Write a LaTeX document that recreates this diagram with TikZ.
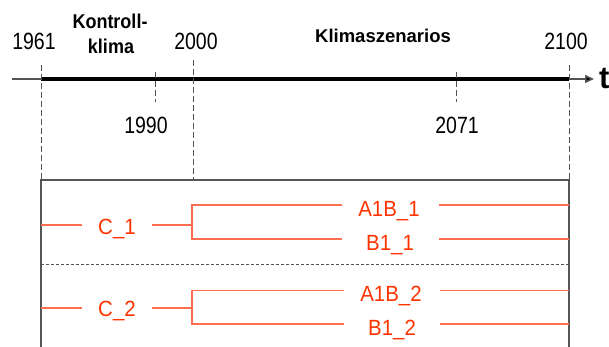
\documentclass[tikz,border=0pt]{standalone}
\usepackage{fontspec}
\setmainfont{Liberation Sans}
\newfontfamily\yrfont[FakeStretch=0.83]{Liberation Sans}
\newfontfamily\redfont[FakeStretch=0.93]{Liberation Sans}
\newfontfamily\kkfont[FakeStretch=0.9]{Liberation Sans}
\usetikzlibrary{arrows.meta}
\definecolor{redtxt}{RGB}{255,51,0}
\definecolor{redln}{RGB}{255,110,80}
\definecolor{grayln}{RGB}{85,85,85}
\begin{document}
\begin{tikzpicture}[x=1pt,y=-1pt,
  yr/.style={font=\yrfont\fontsize{23.5}{24}\selectfont, anchor=base, inner sep=0pt},
  hd/.style={font=\kkfont\fontsize{20}{24}\selectfont\bfseries, anchor=base, inner sep=0pt, align=center},
  hdk/.style={font=\fontsize{18.5}{24}\selectfont\bfseries, anchor=base, inner sep=0pt},
  rl/.style={font=\redfont\fontsize{22}{24}\selectfont, text=redtxt, anchor=base, inner sep=0pt},
  rline/.style={draw=redln, line width=1.2pt},
  vdash/.style={draw=grayln, line width=1pt, dash pattern=on 6pt off 3pt},
  boxln/.style={draw=grayln, line width=1.5pt},
  sepln/.style={draw=grayln, line width=1pt, dash pattern=on 3pt off 2pt}]
\useasboundingbox (0,0) rectangle (609,347);
% axis
\coordinate (a0) at (12,79);
\coordinate (a1961) at (41,79);
\coordinate (a2100) at (569,79);
\coordinate (atip) at (594,79);
\draw[grayln, line width=1.5pt] (a0) -- (a1961);
\draw[black, line width=4pt] (a1961) -- (a2100);
\draw[grayln, line width=1.5pt, -{Triangle[length=9pt,width=8pt,fill=black]}] (a2100) -- (atip);
\node[font=\fontsize{31}{31}\selectfont\bfseries, anchor=base west, inner sep=0pt] (t) at (599,89) {t};
% vertical markers
\draw[vdash] (41,65) -- (41,180);
\draw[vdash] (193,60) -- (193,180);
\draw[vdash] (155,72) -- (155,102);
\draw[vdash] (456,72) -- (456,102);
\draw[vdash] (569,65) -- (569,180);
% labels
\node[yr] (y1961) at (34,50) {1961};
\node[yr] (y2000) at (196,50) {2000};
\node[yr] (y2100) at (566,49.5) {2100};
\node[yr] (y1990) at (146,134) {1990};
\node[yr] (y2071) at (457,134) {2071};
\node[hd] (kk1) at (110,28.3) {Kontroll-};
\node[hd] (kk2) at (111,53.3) {klima};
\node[hdk] (ks) at (383,42.7) {Klimaszenarios};
% box
\draw[boxln] (41,350) -- (41,180) -- (569,180) -- (569,350);
\draw[sepln] (41,264) -- (569,264);
% group 1
\node[rl] (c1) at (117,234.5) {C\_1};
\node[rl] (a1) at (389,216) {A1B\_1};
\node[rl] (b1) at (390,250.5) {B1\_1};
\coordinate (c1a) at (41,225); \coordinate (c1b) at (82,225);
\coordinate (c1c) at (152,225); \coordinate (c1d) at (192,225);
\coordinate (g1t) at (192,205); \coordinate (g1b) at (192,239);
\coordinate (a1l) at (342,205); \coordinate (a1r) at (439,205); \coordinate (a1e) at (569,205);
\coordinate (b1l) at (342,239); \coordinate (b1r) at (439,239); \coordinate (b1e) at (569,239);
\draw[rline] (c1a) -- (c1b);
\draw[rline] (c1c) -- (c1d);
\draw[rline] (a1l) -- (g1t) -- (g1b) -- (b1l);
\draw[rline] (a1r) -- (a1e);
\draw[rline] (b1r) -- (b1e);
% group 2
\node[rl] (c2) at (117,316.5) {C\_2};
\node[rl] (a2) at (391,301) {A1B\_2};
\node[rl] (b2) at (392,335.5) {B1\_2};
\coordinate (c2a) at (41,308); \coordinate (c2b) at (82,308);
\coordinate (c2c) at (152,308); \coordinate (c2d) at (192,308);
\coordinate (g2t) at (192,290.5); \coordinate (g2b) at (192,324);
\coordinate (a2l) at (344,290.5); \coordinate (a2r) at (440,290.5); \coordinate (a2e) at (569,290.5);
\coordinate (b2l) at (344,324); \coordinate (b2r) at (440,324); \coordinate (b2e) at (569,324);
\draw[rline] (c2a) -- (c2b);
\draw[rline] (c2c) -- (c2d);
\draw[rline] (a2l) -- (g2t) -- (g2b) -- (b2l);
\draw[rline] (a2r) -- (a2e);
\draw[rline] (b2r) -- (b2e);
\end{tikzpicture}
\end{document}
